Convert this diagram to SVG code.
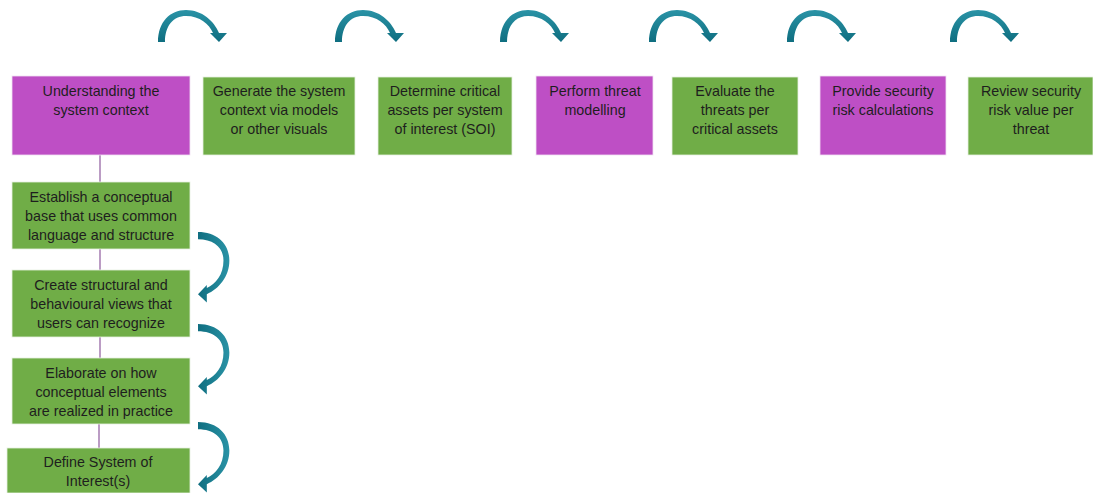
<svg xmlns="http://www.w3.org/2000/svg" width="1093" height="493" viewBox="0 0 1093 493">
<style>
.g{fill:#70AD47;stroke:#E6F0E0;stroke-width:0.8}
.p{fill:#BE4FC5;stroke:#F0E0F2;stroke-width:0.8}
text{font-family:"Liberation Sans",Arial,sans-serif;font-size:14.3px;fill:#1E1E1E;text-anchor:middle}
.ln{stroke:#A57BB0;stroke-width:1.5;fill:none}
.arr{fill:url(#tg)}
</style>
<defs>
<linearGradient id="tg" x1="0" y1="0" x2="0" y2="1">
<stop offset="0" stop-color="#2A93A6"/>
<stop offset="1" stop-color="#0F6E80"/>
</linearGradient>
<path id="ca" d="M0,0 C0,-20 12,-32 28,-32 C44,-32 56,-21 61,-9 L69,-9 L61,0 L52,-9 L55,-9 C51,-18 42,-26 28,-26 C15,-26 7,-16 7,0 Z"/>
</defs>
<g id="connectors">
<line class="ln" x1="100" y1="155" x2="100" y2="182"/>
<line class="ln" x1="100" y1="249" x2="100" y2="270"/>
<line class="ln" x1="100" y1="337" x2="100" y2="358"/>
<line class="ln" x1="99" y1="424" x2="99" y2="448"/>
<use href="#ca" class="arr" transform="translate(158,42)"/>
<use href="#ca" class="arr" transform="translate(335,42)"/>
<use href="#ca" class="arr" transform="translate(500,42)"/>
<use href="#ca" class="arr" transform="translate(649,42)"/>
<use href="#ca" class="arr" transform="translate(787,42)"/>
<use href="#ca" class="arr" transform="translate(950,42)"/>
<use href="#ca" class="arr" transform="translate(198,232) rotate(90) scale(1.02,0.98)"/>
<use href="#ca" class="arr" transform="translate(198,324) rotate(90) scale(1.02,0.98)"/>
<use href="#ca" class="arr" transform="translate(198,422) rotate(90) scale(1.02,0.98)"/>
</g>
<g id="n1"><rect class="p" x="12" y="76" width="178" height="79"/><text x="101" y="96">Understanding the</text><text x="101" y="115">system context</text></g>
<g id="n2"><rect class="g" x="203" y="77" width="152" height="78"/><text x="279" y="96">Generate the system</text><text x="279" y="115">context via models</text><text x="279" y="134">or other visuals</text></g>
<g id="n3"><rect class="g" x="378" y="77" width="134" height="78"/><text x="445" y="96">Determine critical</text><text x="445" y="115">assets per system</text><text x="445" y="134">of interest (SOI)</text></g>
<g id="n4"><rect class="p" x="536" y="76" width="117" height="79"/><text x="595" y="96">Perform threat</text><text x="595" y="115">modelling</text></g>
<g id="n5"><rect class="g" x="672" y="77" width="126" height="78"/><text x="735" y="96">Evaluate the</text><text x="735" y="115">threats per</text><text x="735" y="134">critical assets</text></g>
<g id="n6"><rect class="p" x="820" y="76" width="126" height="79"/><text x="883" y="96">Provide security</text><text x="883" y="115">risk calculations</text></g>
<g id="n7"><rect class="g" x="968" y="77" width="125" height="78"/><text x="1031" y="96">Review security</text><text x="1031" y="115">risk value per</text><text x="1031" y="134">threat</text></g>
<g id="n8"><rect class="g" x="12" y="182" width="178" height="67"/><text x="101" y="202">Establish a conceptual</text><text x="101" y="221">base that uses common</text><text x="101" y="240">language and structure</text></g>
<g id="n9"><rect class="g" x="12" y="270" width="178" height="67"/><text x="101" y="290">Create structural and</text><text x="101" y="309">behavioural views that</text><text x="101" y="328">users can recognize</text></g>
<g id="n10"><rect class="g" x="12" y="358" width="178" height="66"/><text x="101" y="378">Elaborate on how</text><text x="101" y="397">conceptual elements</text><text x="101" y="416">are realized in practice</text></g>
<g id="n11"><rect class="g" x="7" y="448" width="183" height="45"/><text x="98" y="467">Define System of</text><text x="98" y="486">Interest(s)</text></g>
</svg>
